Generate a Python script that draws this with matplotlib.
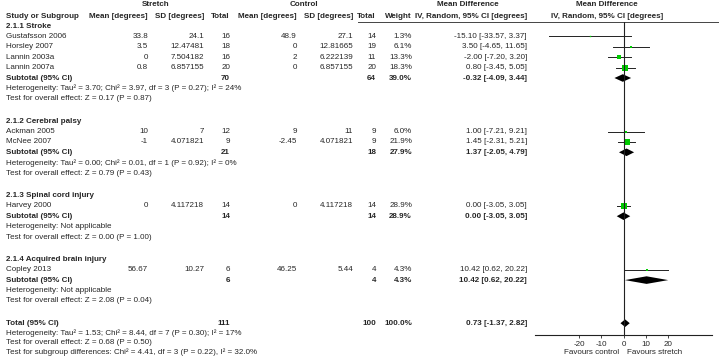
import matplotlib
matplotlib.use("Agg")
import matplotlib.pyplot as plt

plt.rcParams['font.family'] = ['Liberation Sans', 'DejaVu Sans']

# ---- data ----
groups = ["2.1.1 Stroke", "2.1.2 Cerebral palsy", "2.1.3 Spinal cord injury", "2.1.4 Acquired brain injury"]

studies = ["Gustafsson 2006", "Horsley 2007", "Lannin 2003a", "Lannin 2007a",
           "Ackman 2005", "McNee 2007", "Harvey 2000", "Copley 2013"]
study_group = [0, 0, 0, 0, 1, 1, 2, 3]
s_mean = ["33.8", "3.5", "0", "0.8", "10", "-1", "0", "56.67"]
s_sd = ["24.1", "12.47481", "7.504182", "6.857155", "7", "4.071821", "4.117218", "10.27"]
s_n = [16, 18, 16, 20, 12, 9, 14, 6]
c_mean = ["48.9", "0", "2", "0", "9", "-2.45", "0", "46.25"]
c_sd = ["27.1", "12.81665", "6.222139", "6.857155", "11", "4.071821", "4.117218", "5.44"]
c_n = [14, 19, 11, 20, 9, 9, 14, 4]
weight = [1.3, 6.1, 13.3, 18.3, 6.0, 21.9, 28.9, 4.3]
md = [-15.10, 3.50, -2.00, 0.80, 1.00, 1.45, 0.00, 10.42]
lo = [-33.57, -4.65, -7.20, -3.45, -7.21, -2.31, -3.05, 0.62]
hi = [3.37, 11.65, 3.20, 5.05, 9.21, 5.21, 3.05, 20.22]

sub_s_n = [70, 21, 14, 6]
sub_c_n = [64, 18, 14, 4]
sub_w = [39.0, 27.9, 28.9, 4.3]
sub_md = [-0.32, 1.37, 0.00, 10.42]
sub_lo = [-4.09, -2.05, -3.05, 0.62]
sub_hi = [3.44, 4.79, 3.05, 20.22]
sub_het = ["Heterogeneity: Tau\u00b2 = 3.70; Chi\u00b2 = 3.97, df = 3 (P = 0.27); I\u00b2 = 24%",
           "Heterogeneity: Tau\u00b2 = 0.00; Chi\u00b2 = 0.01, df = 1 (P = 0.92); I\u00b2 = 0%",
           "Heterogeneity: Not applicable",
           "Heterogeneity: Not applicable"]
sub_z = ["Z = 0.17 (P = 0.87)", "Z = 0.79 (P = 0.43)", "Z = 0.00 (P = 1.00)", "Z = 2.08 (P = 0.04)"]

tot_s_n, tot_c_n, tot_w = 111, 100, 100.0
tot_md, tot_lo, tot_hi = 0.73, -1.37, 2.82
tot_het = "Heterogeneity: Tau\u00b2 = 1.53; Chi\u00b2 = 8.44, df = 7 (P = 0.30); I\u00b2 = 17%"
tot_z = "Z = 0.68 (P = 0.50)"
subgroup_test = "Test for subgroup differences: Chi\u00b2 = 4.41, df = 3 (P = 0.22), I\u00b2 = 32.0%"

ticks = [-20, -10, 0, 10, 20]
xlim = (-40, 40)

# ---- layout (pixels) ----
W, H = 719, 362
FS = 5.75
TXT = "#262626"
GREEN = "#00cc00"
ROW = 10.4
GAP = 2 * ROW + 1.5
X_NAME = 6
X_SMEAN, X_SSD, X_SN = 148, 204, 230
X_CMEAN, X_CSD, X_CN = 297, 353, 376
X_W, X_CI = 412, 527
PLOT_L, PLOT_R, PLOT_T, PLOT_B = 535, 712, 22, 335

fig = plt.figure(figsize=(W / 100, H / 100), dpi=100)
tab = fig.add_axes([0, 0, 1, 1])
tab.set_xlim(0, W)
tab.set_ylim(H, 0)
tab.axis("off")

ax = fig.add_axes([PLOT_L / W, (H - PLOT_B) / H, (PLOT_R - PLOT_L) / W, (PLOT_B - PLOT_T) / H])
ax.set_xlim(*xlim)
ax.set_ylim(PLOT_B, PLOT_T)
ax.patch.set_alpha(0)


def put(x, y, s, ha="left", bold=False):
    tab.text(x, y, s, ha=ha, va="center", fontsize=FS, color=TXT,
             fontweight="bold" if bold else "normal")


def ci_text(m, a, b):
    return f"{m:.2f} [{a:.2f}, {b:.2f}]"


def diamond(y, m, a, b, h=3.8):
    ax.fill([a, m, b, m], [y, y - h, y, y + h], color="black", lw=0)


# header
put(156, 5, "Stretch", ha="center", bold=True)
put(304, 5, "Control", ha="center", bold=True)
put(468, 5, "Mean Difference", ha="center", bold=True)
put(607, 5, "Mean Difference", ha="center", bold=True)
put(X_NAME, 16, "Study or Subgroup", bold=True)
for x, s in [(X_SMEAN, "Mean [degrees]"), (X_SSD, "SD [degrees]"), (X_SN, "Total"),
             (X_CMEAN, "Mean [degrees]"), (X_CSD, "SD [degrees]"), (X_CN, "Total"),
             (X_W, "Weight"), (X_CI, "IV, Random, 95% CI [degrees]")]:
    put(x, 16, s, ha="right", bold=True)
put(607, 16, "IV, Random, 95% CI [degrees]", ha="center", bold=True)
tab.plot([358, W], [22, 22], color="#444444", lw=0.7)

y = 26
for g, gname in enumerate(groups):
    put(X_NAME, y, gname, bold=True)
    y += ROW
    for i in [k for k, sg in enumerate(study_group) if sg == g]:
        put(X_NAME, y, studies[i])
        put(X_SMEAN, y, s_mean[i], ha="right")
        put(X_SSD, y, s_sd[i], ha="right")
        put(X_SN, y, str(s_n[i]), ha="right")
        put(X_CMEAN, y, c_mean[i], ha="right")
        put(X_CSD, y, c_sd[i], ha="right")
        put(X_CN, y, str(c_n[i]), ha="right")
        put(X_W, y, f"{weight[i]:.1f}%", ha="right")
        put(X_CI, y, ci_text(md[i], lo[i], hi[i]), ha="right")
        ax.plot([lo[i], hi[i]], [y, y], color="#222222", lw=0.7)
        ax.plot(md[i], y, marker="s", color=GREEN, ms=0.85 * weight[i] ** 0.5, mew=0)
        y += ROW
    put(X_NAME, y, "Subtotal (95% CI)", bold=True)
    put(X_SN, y, str(sub_s_n[g]), ha="right", bold=True)
    put(X_CN, y, str(sub_c_n[g]), ha="right", bold=True)
    put(X_W, y, f"{sub_w[g]:.1f}%", ha="right", bold=True)
    put(X_CI, y, ci_text(sub_md[g], sub_lo[g], sub_hi[g]), ha="right", bold=True)
    diamond(y, sub_md[g], sub_lo[g], sub_hi[g])
    y += ROW
    put(X_NAME, y, sub_het[g])
    y += ROW
    put(X_NAME, y, "Test for overall effect: " + sub_z[g])
    y += GAP

put(X_NAME, y, "Total (95% CI)", bold=True)
put(X_SN, y, str(tot_s_n), ha="right", bold=True)
put(X_CN, y, str(tot_c_n), ha="right", bold=True)
put(X_W, y, f"{tot_w:.1f}%", ha="right", bold=True)
put(X_CI, y, ci_text(tot_md, tot_lo, tot_hi), ha="right", bold=True)
diamond(y, tot_md, tot_lo, tot_hi)
y += ROW - 0.6
put(X_NAME, y, tot_het)
y += ROW - 0.6
put(X_NAME, y, "Test for overall effect: " + tot_z)
y += ROW - 0.6
put(X_NAME, y, subgroup_test)

# forest axis
ax.axvline(0, color="#222222", lw=0.8)
for side in ["top", "right", "left"]:
    ax.spines[side].set_visible(False)
ax.spines["bottom"].set_color("#222222")
ax.spines["bottom"].set_linewidth(0.8)
ax.set_yticks([])
ax.set_xticks(ticks)
ax.set_xticklabels([str(t) for t in ticks])
ax.tick_params(axis="x", labelsize=FS, colors=TXT, length=2.5, width=0.6, pad=1.5)
ax.text(-1.8, 352, "Favours control", ha="right", va="center", fontsize=FS, color=TXT, clip_on=False)
ax.text(1.8, 352, "Favours stretch", ha="left", va="center", fontsize=FS, color=TXT, clip_on=False)

fig.savefig("out.png", dpi=100)
